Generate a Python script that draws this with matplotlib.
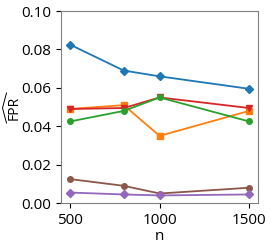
import numpy as np
import matplotlib
matplotlib.use("Agg")
import matplotlib.pyplot as plt
from matplotlib.lines import Line2D

plt.rcParams['font.family'] = ['Open Sans', 'DejaVu Sans']

n = [500, 800, 1000, 1500]
fpr_blue = [0.0825, 0.069, 0.066, 0.0595]
fpr_orange = [0.049, 0.051, 0.035, 0.048]
fpr_red = [0.049, 0.0495, 0.055, 0.0495]
fpr_green = [0.0425, 0.048, 0.055, 0.0425]
fpr_brown = [0.0125, 0.009, 0.005, 0.008]
fpr_purple = [0.0055, 0.0045, 0.004, 0.0045]

W, H = 274, 245
fig, ax = plt.subplots(figsize=(W / 100, H / 100), dpi=100)
ax.plot(n, fpr_blue, color='#1f77b4', marker='D', markersize=4, lw=1.3)
ax.plot(n, fpr_orange, color='#ff7f0e', marker='s', markersize=4, lw=1.3)
ax.plot(n, fpr_red, color='#d62728', marker='v', markersize=4, lw=1.3)
ax.plot(n, fpr_green, color='#2ca02c', marker='o', markersize=4, lw=1.3)
ax.plot(n, fpr_brown, color='#8c564b', marker='o', markersize=4, lw=1.3)
ax.plot(n, fpr_purple, color='#9467bd', marker='D', markersize=4, lw=1.3)

ax.set_xlim(450, 1550)
ax.set_ylim(0, 0.10)
ax.set_xticks([500, 1000, 1500])
ax.set_yticks([0.0, 0.02, 0.04, 0.06, 0.08, 0.10])
ax.yaxis.set_major_formatter(matplotlib.ticker.FormatStrFormatter('%.2f'))
ax.tick_params(labelsize=11)
ax.set_xlabel('n', fontsize=11, labelpad=1)
for s in ax.spines.values():
    s.set_color('#808080')

# y label "FPR" with a wide hat over it (rotated, so the hat points left)
fig.text(14.5 / W, 1 - 108 / H, 'FPR', rotation=90, ha='center', va='center', fontsize=10)
hat_x = [6.5 / W, 2.5 / W, 6.5 / W]
hat_y = [1 - 93 / H, 1 - 108 / H, 1 - 123 / H]
fig.add_artist(Line2D(hat_x, hat_y, color='black', lw=0.7))

fig.subplots_adjust(left=0.223, right=0.942, top=0.955, bottom=0.171)
fig.savefig('out.png', dpi=100)
